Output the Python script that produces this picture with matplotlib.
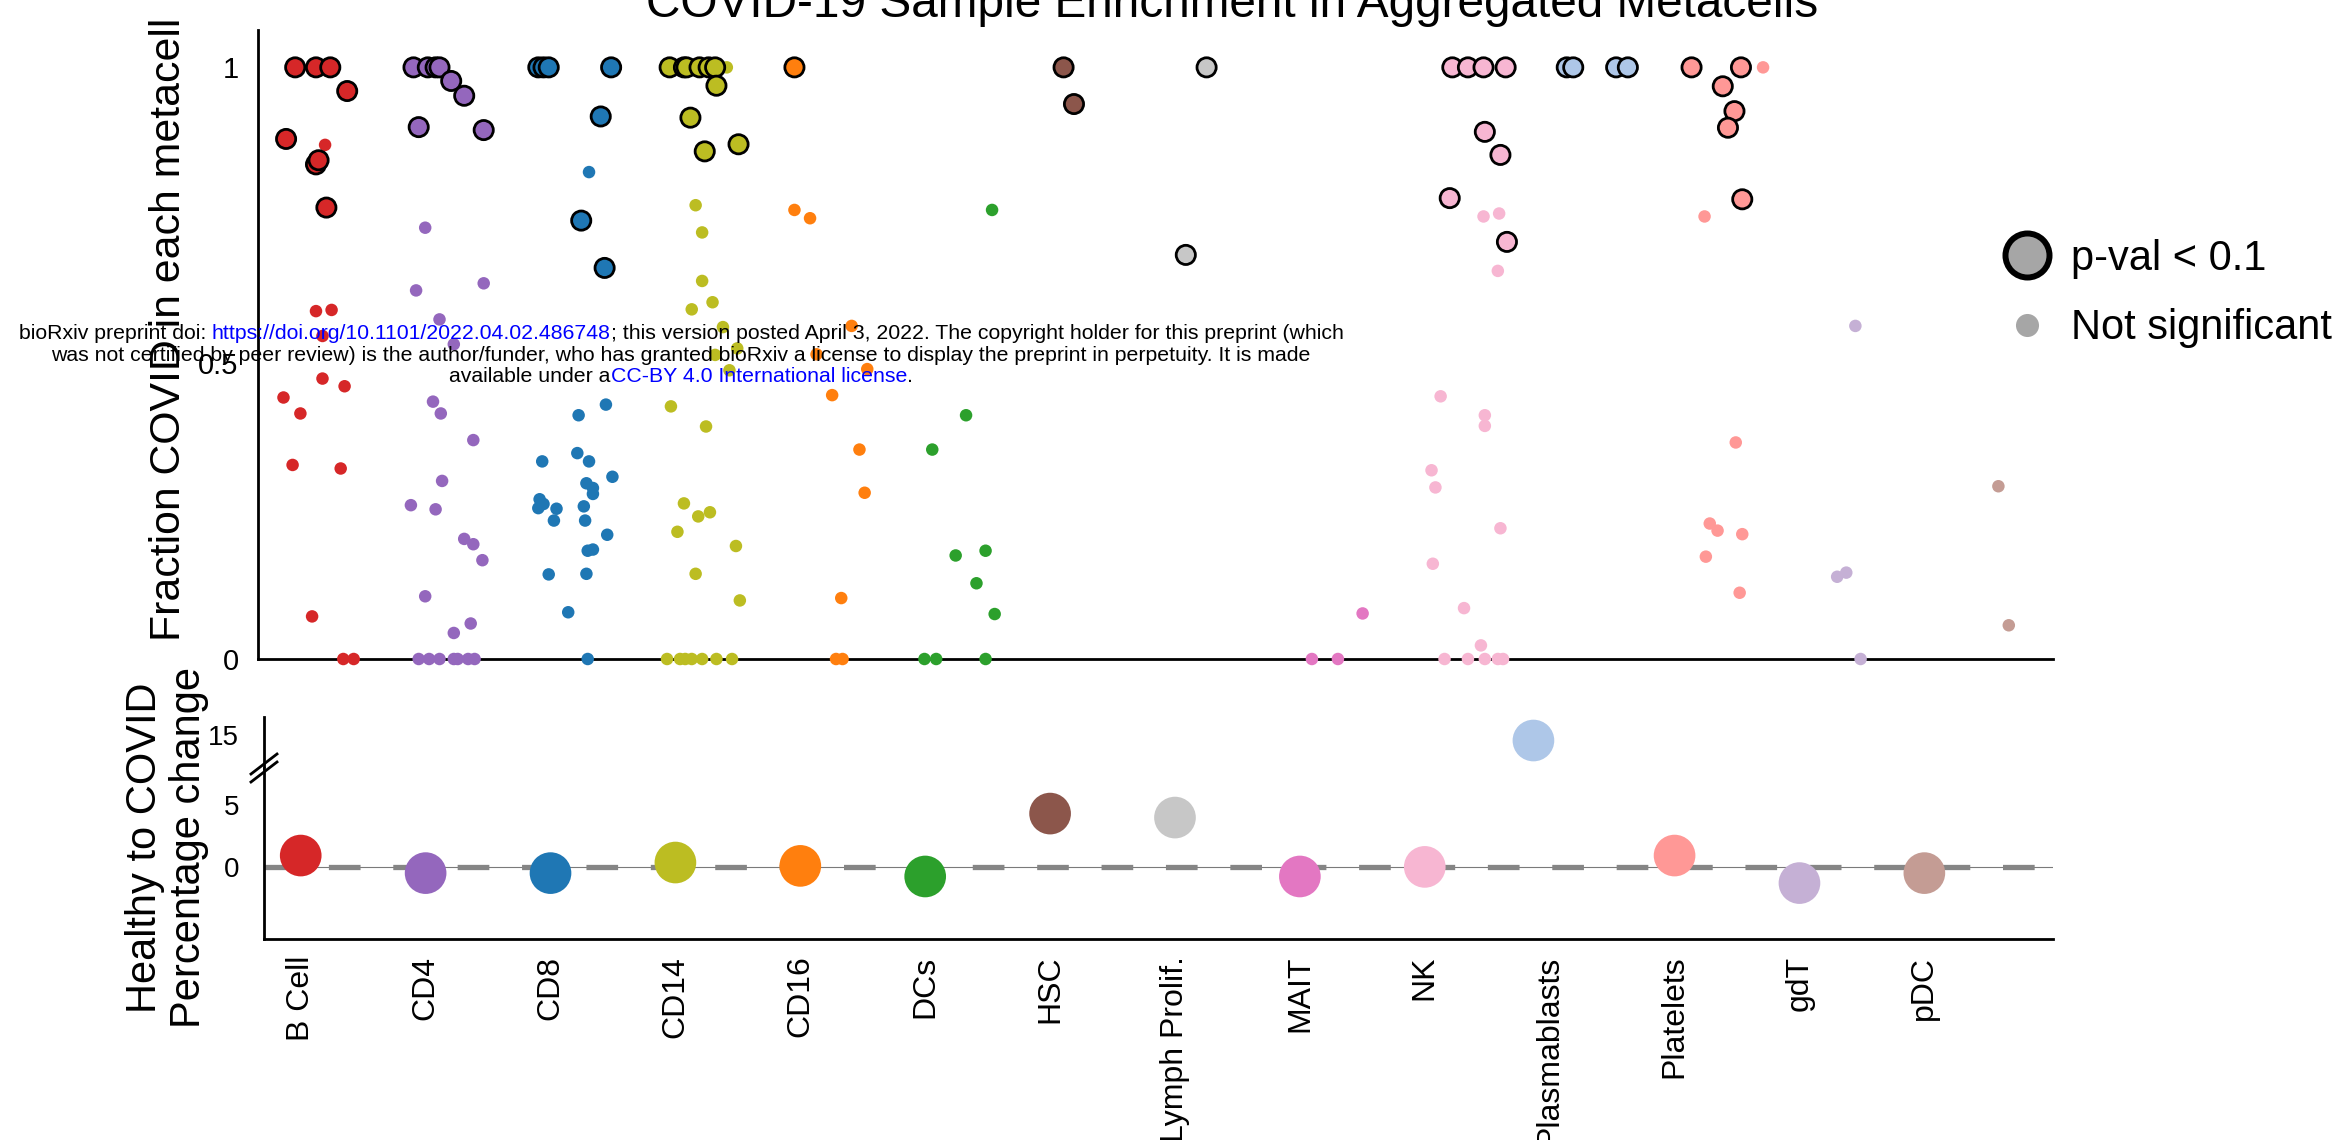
import numpy as np
import matplotlib.pyplot as plt
from matplotlib.lines import Line2D

plt.rcParams['font.family'] = ['Liberation Sans', 'DejaVu Sans']
narrow = ['Liberation Sans Narrow', 'Liberation Sans', 'DejaVu Sans']

# ---- data ----
cell_types = ['B Cell', 'CD4', 'CD8', 'CD14', 'CD16', 'DCs', 'HSC', 'Lymph Prolif.',
              'MAIT', 'NK', 'Plasmablasts', 'Platelets', 'gdT', 'pDC']
colors = ['#d62728', '#9467bd', '#1f77b4', '#bcbd22', '#ff7f0e', '#2ca02c', '#8c564b',
          '#c7c7c7', '#e377c2', '#f7b6d2', '#aec7e8', '#ff9896', '#c5b0d5', '#c49c94']

# percentage change healthy -> covid
pct_change = [0.93, -0.48, -0.48, 0.37, 0.10, -0.75, 4.30, 3.98, -0.75, 0.02, 14.57, 0.93, -1.28, -0.48]

# significant metacells (p-val < 0.1): category, fraction covid, strip jitter
sig_cat = [0]*8 + [1]*8 + [2]*7 + [3]*10 + [4] + [6]*2 + [7]*2 + [9]*8 + [10]*4 + [11]*6
sig_frac = [1.0, 1.0, 1.0, 0.96, 0.879, 0.836, 0.843, 0.763,
            1.0, 1.0, 1.0, 1.0, 0.977, 0.952, 0.899, 0.894,
            1.0, 1.0, 1.0, 1.0, 0.917, 0.741, 0.661,
            1.0, 1.0, 1.0, 1.0, 1.0, 1.0, 0.969, 0.915, 0.858, 0.870,
            1.0,
            1.0, 0.938,
            1.0, 0.683,
            1.0, 1.0, 1.0, 1.0, 0.891, 0.852, 0.779, 0.705,
            1.0, 1.0, 1.0, 1.0,
            1.0, 1.0, 0.968, 0.926, 0.898, 0.777]
sig_jit = [-0.16, 0.0, 0.11, 0.24, -0.23, 0.0, 0.02, 0.08,
           -0.25, -0.14, -0.08, -0.05, 0.04, 0.14, -0.21, 0.29,
           -0.29, -0.25, -0.21, 0.27, 0.19, 0.04, 0.22,
           -0.28, -0.17, -0.15, -0.05, 0.02, 0.07, 0.08, -0.12, -0.01, 0.25,
           -0.32,
           -0.25, -0.17,
           -0.15, -0.31,
           -0.26, -0.14, -0.02, 0.15, -0.01, 0.11, -0.28, 0.16,
           -0.38, -0.33, 0.0, 0.09,
           -0.42, -0.04, -0.18, -0.09, -0.14, -0.03]

# not significant metacells
ns_cat = [0]*13 + [1]*24 + [2]*24 + [3]*26 + [4]*11 + [5]*10 + [8]*3 + [9]*17 + [11]*8 + [12]*4 + [13]*2
ns_frac = [0.869, 0.588, 0.590, 0.546, 0.474, 0.461, 0.442, 0.415, 0.328, 0.322, 0.072, 0, 0,
           0.729, 0.623, 0.635, 0.574, 0.532, 0.435, 0.415, 0.370, 0.301, 0.260, 0.253, 0.203,
           0.194, 0.167, 0.106, 0.044, 0.060, 0, 0, 0, 0, 0, 0, 0,
           0.823, 0.430, 0.412, 0.334, 0.348, 0.334, 0.308, 0.297, 0.289, 0.279, 0.270, 0.262,
           0.255, 0.254, 0.258, 0.234, 0.234, 0.210, 0.183, 0.185, 0.143, 0.144, 0.079, 0,
           1.0, 0.767, 0.721, 0.639, 0.591, 0.603, 0.561, 0.514, 0.525, 0.488, 0.427, 0.393,
           0.263, 0.241, 0.248, 0.215, 0.191, 0.144, 0.099, 0, 0, 0, 0, 0, 0, 0,
           0.759, 0.745, 0.563, 0.515, 0.490, 0.446, 0.354, 0.281, 0.103, 0, 0,
           0.759, 0.412, 0.354, 0.183, 0.175, 0.128, 0.076, 0, 0, 0,
           0.077, 0, 0,
           0.748, 0.753, 0.656, 0.444, 0.412, 0.394, 0.319, 0.290, 0.221, 0.161, 0.086, 0.023,
           0, 0, 0, 0, 0,
           1.0, 0.748, 0.366, 0.229, 0.217, 0.211, 0.173, 0.112,
           0.563, 0.139, 0.146, 0,
           0.292, 0.057]
ns_jit = [0.07, 0.0, 0.12, 0.05, 0.05, 0.22, -0.25, -0.12, -0.18, 0.19, -0.03, 0.21, 0.29,
          -0.16, -0.23, 0.29, -0.05, 0.06, -0.10, -0.04, 0.21, -0.03, -0.27, -0.08, 0.14,
          0.21, 0.28, -0.16, 0.06, 0.19, -0.21, -0.13, -0.05, 0.06, 0.09, 0.17, 0.22,
          0.10, 0.23, 0.02, -0.26, 0.01, 0.10, 0.28, 0.08, 0.13, 0.13, -0.28, -0.25,
          -0.29, -0.15, 0.06, -0.17, 0.07, 0.24, 0.09, 0.13, -0.21, 0.08, -0.06, 0.09,
          0.16, -0.08, -0.03, -0.03, -0.11, 0.05, 0.13, 0.07, 0.24, 0.18, -0.27, 0.0,
          -0.17, -0.06, 0.03, -0.22, 0.23, -0.08, 0.26, -0.30, -0.20, -0.16, -0.11, -0.03, 0.08, 0.20,
          -0.32, -0.20, 0.12, -0.15, 0.24, -0.03, 0.18, 0.22, 0.04, 0.0, 0.05,
          0.20, 0.0, -0.26, 0.15, -0.08, 0.08, 0.22, -0.32, -0.23, 0.15,
          0.05, -0.34, -0.14,
          -0.02, 0.10, 0.09, -0.35, -0.01, -0.01, -0.42, -0.39, 0.11, -0.41, -0.17, -0.04,
          -0.32, -0.14, -0.01, 0.09, 0.13,
          0.13, -0.32, -0.08, -0.28, -0.22, -0.03, -0.31, -0.05,
          -0.16, -0.30, -0.23, -0.12,
          -0.06, 0.02]

# ---- figure ----
W, H = 2350, 1140
fig = plt.figure(figsize=(W / 100, H / 100), dpi=100)


def box(x0, y0, x1, y1):
    # pixel box (top-left origin) -> figure fraction rect
    return [x0 / W, 1 - y1 / H, (x1 - x0) / W, (y1 - y0) / H]


ax = fig.add_axes(box(258, 29.5, 2053, 659))
ax_hi = fig.add_axes(box(264, 717, 2053, 768))
ax_lo = fig.add_axes(box(264, 768, 2053, 939))

col = np.array(colors)
ns_cat = np.array(ns_cat)
sig_cat = np.array(sig_cat)
ax.scatter(ns_cat + np.array(ns_jit), ns_frac, s=81, c=col[ns_cat], lw=0,
           clip_on=False, zorder=3)
ax.scatter(sig_cat + np.array(sig_jit), sig_frac, s=191, c=col[sig_cat],
           edgecolors='black', linewidths=2.0, clip_on=False, zorder=4)
ax.set_xlim(-0.446, 13.36)
ax.set_ylim(0, 1.064)
for s in ['top', 'right']:
    ax.spines[s].set_visible(False)
for s in ['left', 'bottom']:
    ax.spines[s].set_linewidth(2.0)
ax.set_xticks([])
ax.set_yticks([0, 0.5, 1])
ax.set_yticklabels(['0', '0.5', '1'], family=narrow)
ax.tick_params(axis='y', length=0, pad=14, labelsize=21)

# legend
handles = [Line2D([], [], ls='', marker='o', markersize=31.7, markerfacecolor='#a6a6a6',
                  markeredgecolor='black', markeredgewidth=4.3),
           Line2D([], [], ls='', marker='o', markersize=16.6, markerfacecolor='#a6a6a6',
                  markeredgecolor='none')]
ax.legend(handles, ['p-val < 0.1', 'Not significant'], loc='center left',
          bbox_to_anchor=(2006 / W, 1 - 293.5 / H), bbox_transform=fig.transFigure,
          frameon=False, fontsize=30, handlelength=1.0, handletextpad=0.55,
          labelspacing=0.7, borderpad=0, borderaxespad=0)

# bottom: broken axis
x = np.arange(len(cell_types))
for a in (ax_hi, ax_lo):
    a.scatter(x, pct_change, s=900, c=colors, lw=0, zorder=3)
    for s in ['top', 'right', 'bottom']:
        a.spines[s].set_visible(False)
    a.spines['left'].set_linewidth(2.0)
    a.tick_params(axis='y', length=0, pad=18, labelsize=20)
ax_lo.set_xlim(-0.294, 14.03)
ax_hi.set_xlim(-0.164, 14.16)
ax_lo.spines['bottom'].set_visible(True)
ax_lo.spines['bottom'].set_linewidth(2.0)
ax_hi.set_ylim(12.35, 16.47)
ax_lo.set_ylim(-5.77, 7.96)
ax_hi.set_yticks([15])
ax_hi.set_yticklabels(['15'], family=narrow)
ax_lo.set_yticks([0, 5])
ax_lo.set_yticklabels(['0', '5'], family=narrow)
ax_hi.set_xticks([])
ax_lo.set_xticks(x)
ax_lo.set_xticklabels(cell_types, rotation=90, fontsize=23)
ax_lo.tick_params(axis='x', length=0, pad=12)
ax_lo.axhline(0, color='#7a7a7a', lw=0.8, zorder=1)
ax_lo.axhline(0, color='#858585', lw=3.8, dashes=(6, 6.2), zorder=2)

# break marks on the left spine
for dy in (-4, 4):
    fig.add_artist(Line2D([251 / W, 277 / W], [1 - (778 + dy) / H, 1 - (758 + dy) / H],
                          color='black', lw=2.0))

# labels and title
fig.text(1232 / W, 1 - 17 / H, 'COVID-19 Sample Enrichment in Aggregated Metacells',
         ha='center', va='baseline', fontsize=34.4)
fig.text(169 / W, 1 - 329 / H, 'Fraction COVID in each metacell', rotation=90,
         ha='center', va='center', fontsize=30.8)
fig.text(167 / W, 1 - 848 / H, 'Healthy to COVID\nPercentage change', rotation=90,
         ha='center', va='center', fontsize=30, linespacing=1.12, multialignment='center')

# bioRxiv watermark
blue = '#0000ff'
rend = fig.canvas.get_renderer()
fs = 15.3


def text_w(s):
    t = fig.text(0, 0, s, fontsize=fs)
    w = t.get_window_extent(renderer=rend).width
    t.remove()
    return w


space = text_w('a a') - text_w('aa')


def rich_line(parts, y_base, xc=681):
    items = []
    for s, c in parts:
        if s == ' ':
            items.append((None, space))
        else:
            t = fig.text(0, 1 - y_base / H, s, color=c, fontsize=fs, ha='left', va='baseline')
            items.append((t, t.get_window_extent(renderer=rend).width))
    xx = xc - sum(w for _, w in items) / 2
    for t, w in items:
        if t is not None:
            t.set_x(xx / W)
        xx += w


rich_line([('bioRxiv preprint doi:', 'black'), (' ', None),
           ('https://doi.org/10.1101/2022.04.02.486748', blue),
           ('; this version posted April 3, 2022. The copyright holder for this preprint (which', 'black')], 339)
rich_line([('was not certified by peer review) is the author/funder, who has granted bioRxiv a license '
            'to display the preprint in perpetuity. It is made', 'black')], 361)
rich_line([('available under a', 'black'), ('CC-BY 4.0 International license', blue), ('.', 'black')], 382)

fig.savefig('out.png', dpi=100)
